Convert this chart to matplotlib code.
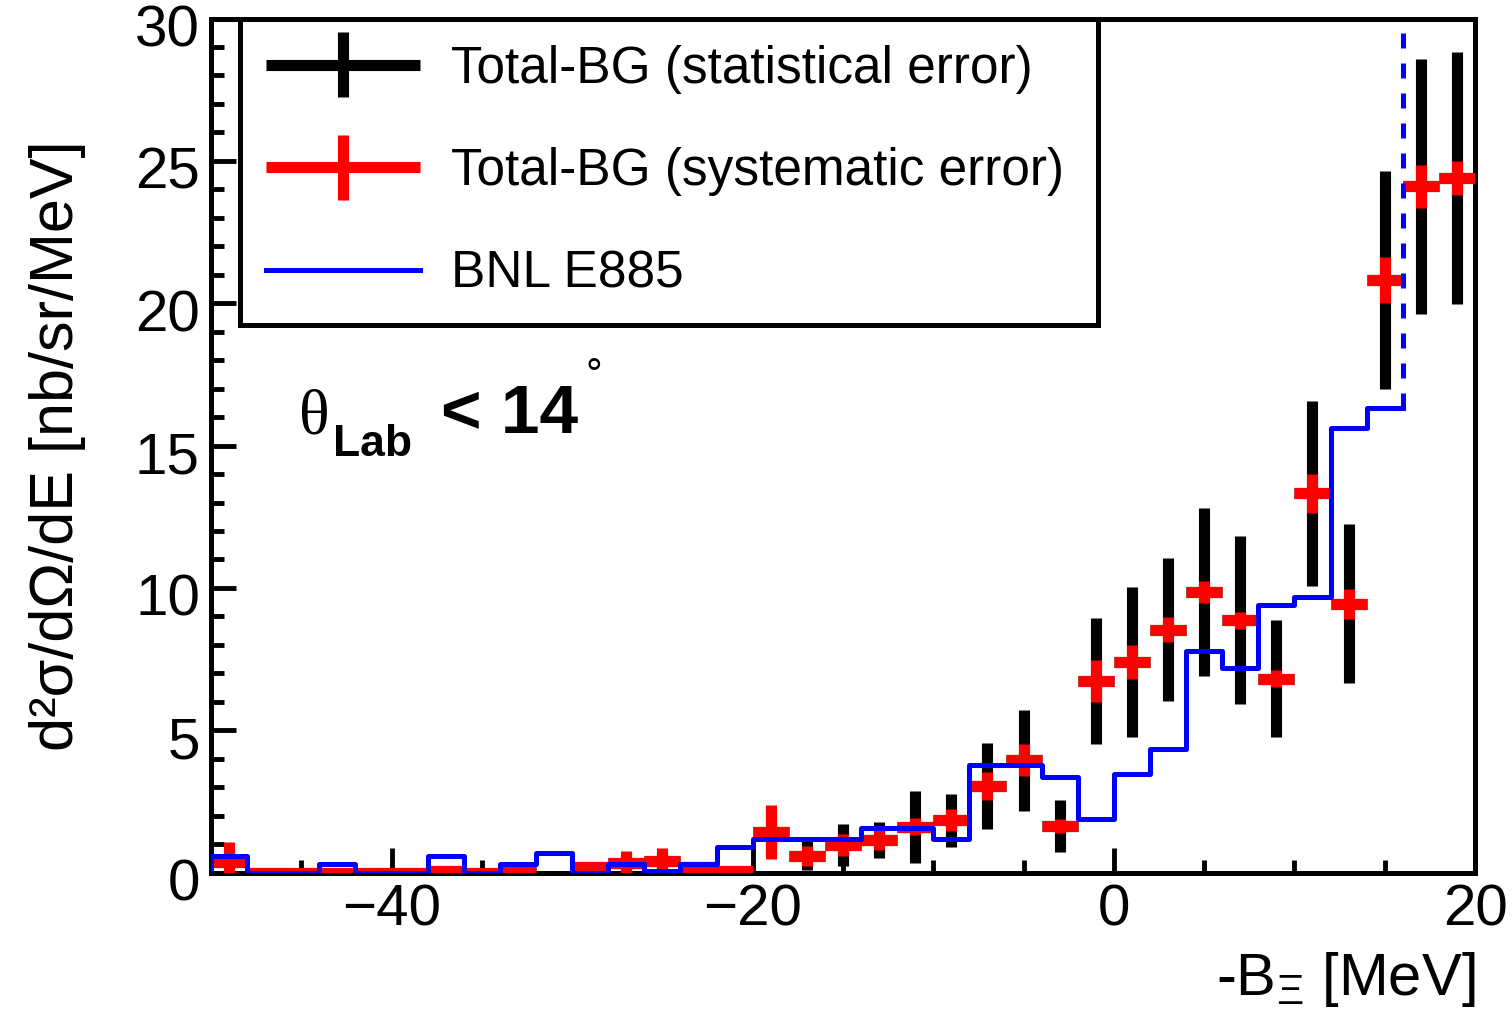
import numpy as np
import matplotlib
matplotlib.use("Agg")
import matplotlib.pyplot as plt
from matplotlib.lines import Line2D
from matplotlib.container import ErrorbarContainer
from matplotlib.legend_handler import HandlerErrorbar
from matplotlib.ticker import MultipleLocator
from matplotlib.transforms import ScaledTranslation

plt.rcParams['font.family'] = ['Liberation Sans', 'DejaVu Sans']
plt.rcParams['mathtext.fontset'] = 'custom'
plt.rcParams['mathtext.rm'] = 'Liberation Sans'
plt.rcParams['mathtext.it'] = 'Liberation Sans:italic'
plt.rcParams['mathtext.bf'] = 'Liberation Sans:bold'

# ---------------- data ----------------
bin_centers = [-49, -47, -45, -43, -41, -39, -37, -35, -33, -31, -29, -27,
               -25, -23, -21, -19, -17, -15, -13, -11, -9, -7, -5, -3,
               -1, 1, 3, 5, 7, 9, 11, 13, 15, 17, 19]
bin_half_width = 1.0
values = [0.36, 0.0, 0.0, 0.0, 0.0, 0.0, 0.05, 0.0, 0.1, np.nan, 0.2, 0.33,
          0.42, 0.2, 0.05, 1.43, 0.6, 0.97, 1.15, 1.61, 1.84, 3.05, 3.95, 1.64,
          6.73, 7.4, 8.54, 9.86, 8.87, 6.82, 13.33, 9.45, 20.82, 24.1, 24.4]
stat_err = [0.5, 0.0, 0.0, 0.0, 0.0, 0.0, 0.05, 0.0, 0.1, np.nan, 0.1, 0.3,
            0.3, 0.15, 0.05, 0.8, 0.5, 0.75, 0.62, 1.26, 0.93, 1.52, 1.77, 0.92,
            2.2, 2.65, 2.5, 2.95, 2.94, 2.06, 3.25, 2.8, 3.84, 4.48, 4.44]
sys_err = [0.73, 0.0, 0.0, 0.0, 0.0, 0.0, 0.05, 0.0, 0.1, np.nan, 0.1, 0.44,
           0.45, 0.15, 0.05, 0.94, 0.35, 0.4, 0.35, 0.3, 0.38, 0.5, 0.57, 0.25,
           0.73, 0.6, 0.43, 0.4, 0.3, 0.3, 0.68, 0.53, 0.82, 0.74, 0.6]

e885_edges = [-50, -48, -46, -44, -42, -40, -38, -36, -34, -32, -30, -28,
              -26, -24, -22, -20, -18, -16, -14, -12, -10, -8, -6, -4,
              -2, 0, 2, 4, 6, 8, 10, 12, 14, 16]
e885_values = [0.6, 0.0, 0.0, 0.3, 0.0, 0.0, 0.6, 0.0, 0.3, 0.7, 0.0, 0.3,
               0.05, 0.3, 0.9, 1.18, 1.18, 1.18, 1.58, 1.58, 1.18, 3.78, 3.78, 3.37,
               1.87, 3.46, 4.36, 7.79, 7.2, 9.39, 9.68, 15.63, 16.33]
threshold = 16

x_range = (-50, 20)
y_range = (0, 30)

# ---------------- figure ----------------
W, H = 1512, 1016
fig = plt.figure(figsize=(W / 100, H / 100), dpi=100)
L, R, T, B = 211, 1475, 18.5, 872.7
ax = fig.add_axes([L / W, 1 - B / H, (R - L) / W, (B - T) / H])
ax.set_xlim(*x_range)
ax.set_ylim(*y_range)

eb_stat = ax.errorbar(bin_centers, values, xerr=bin_half_width, yerr=stat_err,
                      fmt='none', ecolor='black', elinewidth=8, capsize=0,
                      zorder=3, label='Total-BG (statistical error)')
eb_sys = ax.errorbar(bin_centers, values, xerr=bin_half_width, yerr=sys_err,
                     fmt='none', ecolor='#ff0000', elinewidth=8, capsize=0,
                     zorder=4, label='Total-BG (systematic error)')

step_x = [e885_edges[0]] + e885_edges
step_y = [0.0] + e885_values + [e885_values[-1]]
blue_line, = ax.step(step_x, step_y, where='post', color='#0000ff', lw=3.6,
                     zorder=5, label='BNL E885')
ax.vlines(threshold, e885_values[-1], y_range[1], colors='#0000ff',
          linestyles=(0, (3, 3)), lw=3.6, zorder=5)

# axes style
for s in ax.spines.values():
    s.set_linewidth(3.6)
    s.set_zorder(2.5)
ax.xaxis.set_major_locator(MultipleLocator(20))
ax.xaxis.set_minor_locator(MultipleLocator(5))
ax.yaxis.set_major_locator(MultipleLocator(5))
ax.yaxis.set_minor_locator(MultipleLocator(1))
ax.tick_params(which='both', direction='in', top=False, right=False,
               width=3.5, labelsize=42, pad=8)
ax.tick_params(which='major', length=18)
ax.tick_params(which='minor', length=9.5)
off = ScaledTranslation(0, -5 / 72, fig.dpi_scale_trans)
for lab in ax.get_yticklabels():
    lab.set_transform(lab.get_transform() + off)

ax.set_xlabel(r'-B$_{\Xi}$ [MeV]', fontsize=43, loc='right')
ax.xaxis.label.set_va('baseline')
ax.xaxis.set_label_coords(1.0, (B - 995) / (B - T))

ax.set_ylabel('d²σ/dΩ/dE [nb/sr/MeV]', fontsize=44)
ax.yaxis.label.set_va('center')
ax.yaxis.set_label_coords((57 - L) / (R - L), 0.5)

# legend
leg = ax.legend(handles=[eb_stat, eb_sys, blue_line],
                labels=['Total-BG (statistical error)', 'Total-BG (systematic error)', 'BNL E885'],
                loc='upper left',
                bbox_to_anchor=((240 - L) / (R - L), 0.0, (1098 - 240) / (R - L), 1.0),
                mode='expand', borderaxespad=0, fontsize=37, frameon=True,
                fancybox=False, edgecolor='black', framealpha=1,
                borderpad=0.51, labelspacing=1.04, handlelength=3.0,
                handletextpad=0.6,
                handler_map={ErrorbarContainer: HandlerErrorbar(xerr_size=1.5, yerr_size=0.63)})
leg.get_frame().set_linewidth(3.6)
leg.set_zorder(10)

# annotation
def fx(px):
    return px / W

def fy(py):
    return 1 - py / H

fig.text(fx(299), fy(433), 'θ', fontsize=46, family=['Liberation Serif', 'DejaVu Serif'], va='baseline')
fig.text(fx(333), fy(456), 'Lab', fontsize=32, weight='bold', va='baseline')
fig.text(fx(441), fy(433), '< 14', fontsize=50, weight='bold', va='baseline')
fig.text(fx(585), fy(388), '°', fontsize=30, va='baseline')

fig.savefig('out.png', dpi=100, facecolor='white')
